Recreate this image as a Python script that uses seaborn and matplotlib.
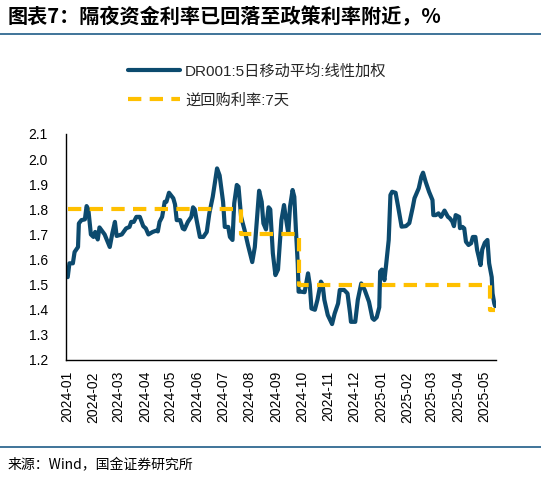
import matplotlib
matplotlib.use("Agg")
import matplotlib.pyplot as plt
import seaborn as sns
import pandas as pd

# ---------------- data ----------------
dr_dates = [
    "2024-01-02", "2024-01-04", "2024-01-08", "2024-01-10", "2024-01-14", "2024-01-15",
    "2024-01-18", "2024-01-22", "2024-01-24", "2024-01-26", "2024-01-29", "2024-02-01",
    "2024-02-03", "2024-02-06", "2024-02-08", "2024-02-14", "2024-02-20", "2024-02-23",
    "2024-02-26", "2024-02-28", "2024-03-05", "2024-03-10", "2024-03-14", "2024-03-16",
    "2024-03-19", "2024-03-22", "2024-03-26", "2024-03-30", "2024-04-02", "2024-04-05",
    "2024-04-10", "2024-04-14", "2024-04-16", "2024-04-18", "2024-04-21", "2024-04-24",
    "2024-04-26", "2024-04-29", "2024-05-04", "2024-05-06", "2024-05-08", "2024-05-12",
    "2024-05-15", "2024-05-17", "2024-05-21", "2024-05-25", "2024-05-27", "2024-05-29",
    "2024-05-31", "2024-06-04", "2024-06-08", "2024-06-12", "2024-06-15", "2024-06-19",
    "2024-06-24", "2024-06-27", "2024-07-01", "2024-07-03", "2024-07-07", "2024-07-09",
    "2024-07-12", "2024-07-14", "2024-07-17", "2024-07-19", "2024-07-22", "2024-07-26",
    "2024-07-30", "2024-08-04", "2024-08-07", "2024-08-12", "2024-08-15", "2024-08-17",
    "2024-08-20", "2024-08-23", "2024-08-25", "2024-08-28", "2024-08-31", "2024-09-03",
    "2024-09-07", "2024-09-10", "2024-09-12", "2024-09-15", "2024-09-17", "2024-09-20",
    "2024-09-22", "2024-09-24", "2024-09-26", "2024-09-27", "2024-09-30", "2024-10-04",
    "2024-10-08", "2024-10-10", "2024-10-12", "2024-10-16", "2024-10-19", "2024-10-23",
    "2024-10-25", "2024-10-27", "2024-10-31", "2024-11-05", "2024-11-08", "2024-11-12",
    "2024-11-14", "2024-11-19", "2024-11-23", "2024-11-26", "2024-11-27", "2024-12-02",
    "2024-12-05", "2024-12-09", "2024-12-13", "2024-12-18", "2024-12-22", "2024-12-24",
    "2024-12-27", "2024-12-30", "2024-12-31", "2025-01-02", "2025-01-05", "2025-01-07",
    "2025-01-10", "2025-01-12", "2025-01-14", "2025-01-18", "2025-01-21", "2025-01-25",
    "2025-01-30", "2025-02-03", "2025-02-07", "2025-02-09", "2025-02-14", "2025-02-17",
    "2025-02-19", "2025-02-22", "2025-02-26", "2025-03-02", "2025-03-03", "2025-03-06",
    "2025-03-09", "2025-03-12", "2025-03-16", "2025-03-20", "2025-03-22", "2025-03-25",
    "2025-03-27", "2025-03-29", "2025-04-02", "2025-04-03", "2025-04-06", "2025-04-08",
    "2025-04-10", "2025-04-13", "2025-04-16", "2025-04-18", "2025-04-21", "2025-04-23",
    "2025-04-25", "2025-04-27", "2025-04-29", "2025-05-02", "2025-05-05", "2025-05-07",
    "2025-05-10", "2025-05-11", "2025-05-13", "2025-05-14",
]
dr_values = [
    1.53, 1.585, 1.585, 1.63, 1.65, 1.744,
    1.757, 1.76, 1.813, 1.80, 1.70, 1.69,
    1.71, 1.68, 1.728, 1.70, 1.65, 1.705,
    1.75, 1.694, 1.70, 1.724, 1.73, 1.75,
    1.75, 1.77, 1.77, 1.733, 1.724, 1.70,
    1.71, 1.715, 1.712, 1.75, 1.77, 1.83,
    1.83, 1.866, 1.844, 1.82, 1.757, 1.757,
    1.724, 1.72, 1.75, 1.77, 1.808, 1.80,
    1.76, 1.69, 1.69, 1.71, 1.784, 1.85,
    1.963, 1.935, 1.83, 1.73, 1.73, 1.69,
    1.678, 1.824, 1.897, 1.89, 1.77, 1.718,
    1.658, 1.59, 1.65, 1.874, 1.83, 1.744,
    1.72, 1.808, 1.80, 1.625, 1.538, 1.56,
    1.757, 1.817, 1.77, 1.705, 1.81, 1.877,
    1.85, 1.71, 1.585, 1.472, 1.472, 1.47,
    1.545, 1.50, 1.405, 1.40, 1.44, 1.512,
    1.50, 1.44, 1.379, 1.343, 1.385, 1.425,
    1.479, 1.479, 1.465, 1.385, 1.352, 1.352,
    1.44, 1.505, 1.479, 1.432, 1.366, 1.36,
    1.37, 1.41, 1.552, 1.56, 1.518, 1.58,
    1.678, 1.857, 1.87, 1.866, 1.81, 1.731,
    1.733, 1.745, 1.808, 1.844, 1.884, 1.93,
    1.946, 1.91, 1.87, 1.837, 1.777, 1.777,
    1.784, 1.77, 1.795, 1.77, 1.765, 1.752,
    1.733, 1.777, 1.77, 1.725, 1.73, 1.724,
    1.671, 1.658, 1.665, 1.69, 1.69, 1.638,
    1.609, 1.578, 1.64, 1.667, 1.678, 1.585,
    1.53, 1.465, 1.425, 1.415,
]

policy_dates = ["2024-01-02", "2024-07-22", "2024-09-27", "2025-05-08", "2025-05-14"]
policy_values = [1.8, 1.7, 1.5, 1.4, 1.4]

tick_labels = ["2024-01", "2024-02", "2024-03", "2024-04", "2024-05", "2024-06",
               "2024-07", "2024-08", "2024-09", "2024-10", "2024-11", "2024-12",
               "2025-01", "2025-02", "2025-03", "2025-04", "2025-05"]
y_ticks = [1.2, 1.3, 1.4, 1.5, 1.6, 1.7, 1.8, 1.9, 2.0, 2.1]

series_dr = "DR001:5日移动平均:线性加权"
series_rr = "逆回购利率:7天"
title = "图表7：隔夜资金利率已回落至政策利率附近，%"
source = "来源：Wind，国金证券研究所"

# ---------------- style ----------------
sns.set_theme(style="white")
plt.rcParams["font.family"] = ["Liberation Sans", "Noto Sans CJK SC", "DejaVu Sans"]

BLUE = "#0C4A6E"
YELLOW = "#FFC000"
RULE = "#1F5C87"

df_dr = pd.DataFrame({"date": pd.to_datetime(dr_dates), "value": dr_values})
df_rr = pd.DataFrame({"date": pd.to_datetime(policy_dates), "value": policy_values})

fig = plt.figure(figsize=(5.41, 4.78), dpi=100)
ax = fig.add_axes([66 / 541, 1 - 360 / 478, (496 - 66) / 541, (360 - 134) / 478])

sns.lineplot(data=df_dr, x="date", y="value", ax=ax, color=BLUE, lw=3.0,
             label=series_dr, legend=False)
sns.lineplot(data=df_rr, x="date", y="value", ax=ax, color=YELLOW, lw=3.0,
             drawstyle="steps-post", dashes=False, label=series_rr, legend=False)
ax.lines[-1].set_linestyle((0, (3.2, 2.0)))

ax.set_xlim(pd.Timestamp("2023-12-31"), pd.Timestamp("2025-05-15"))
ax.set_ylim(1.2, 2.1)
ax.set_yticks(y_ticks)
ax.set_yticklabels([f"{v:.1f}" for v in y_ticks])
tick_pos = pd.to_datetime([t + "-01" for t in tick_labels])
ax.set_xticks(tick_pos)
ax.set_xticklabels(tick_labels, rotation=90)
ax.set_xlabel("")
ax.set_ylabel("")

for s in ["top", "right"]:
    ax.spines[s].set_visible(False)
for s in ["left", "bottom"]:
    ax.spines[s].set_color("black")
    ax.spines[s].set_linewidth(1.0)
ax.tick_params(axis="both", direction="in", length=4, width=1, color="black",
               labelsize=10, labelcolor="black")
ax.tick_params(axis="y", pad=13)
ax.tick_params(axis="x", pad=8)
ax.grid(False)

# legend
handles = ax.lines[:2]
leg = fig.legend(handles, [series_dr, series_rr], loc="upper left",
                 bbox_to_anchor=(122 / 541, 1 - 58 / 478), frameon=False,
                 fontsize=11, handlelength=3.4, handletextpad=0.33,
                 labelspacing=0.95, borderaxespad=0)

# title and rules
fig.text(8 / 541, 1 - 17 / 478, title, fontsize=14.5, fontweight="bold",
         fontstyle="italic", va="center", ha="left",
         family=["Noto Sans CJK SC", "DejaVu Sans"], color="black")
fig.add_artist(plt.Line2D([0, 1], [1 - 34 / 478, 1 - 34 / 478],
                          transform=fig.transFigure, color=RULE, lw=1.2))
fig.add_artist(plt.Line2D([0, 1], [1 - 447 / 478, 1 - 447 / 478],
                          transform=fig.transFigure, color=RULE, lw=1.2))
fig.text(8 / 541, 1 - 465 / 478, source, fontsize=10, va="center", ha="left",
         family=["Noto Sans CJK SC", "DejaVu Sans"], color="black")

fig.savefig("out.png", dpi=100)
